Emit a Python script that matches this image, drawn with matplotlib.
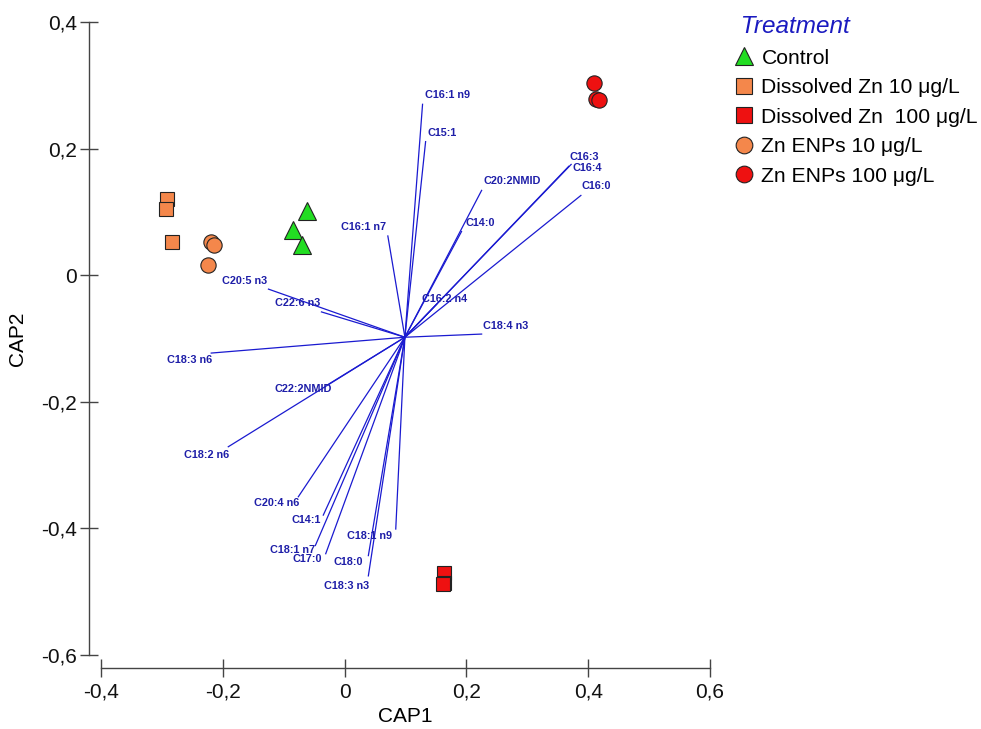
import matplotlib.pyplot as plt
from matplotlib.lines import Line2D

plt.rcParams['font.family'] = ['Liberation Sans', 'DejaVu Sans']

# Sample scores (CAP1, CAP2)
control_x = [-0.062, -0.084, -0.070]
control_y = [0.101, 0.071, 0.047]
dzn10_x = [-0.291, -0.293, -0.283]
dzn10_y = [0.121, 0.104, 0.052]
dzn100_x = [0.163, 0.163, 0.161]
dzn100_y = [-0.470, -0.487, -0.488]
enp10_x = [-0.219, -0.215, -0.225]
enp10_y = [0.052, 0.048, 0.016]
enp100_x = [0.410, 0.413, 0.418]
enp100_y = [0.304, 0.278, 0.277]

# Fatty acid vectors (common origin, end points)
origin = (0.099, -0.098)
fa_names = ["C16:1 n9", "C15:1", "C20:2NMID", "C14:0", "C16:3", "C16:4", "C16:0",
            "C16:2 n4", "C18:4 n3", "C16:1 n7", "C20:5 n3", "C22:6 n3", "C18:3 n6",
            "C22:2NMID", "C18:2 n6", "C20:4 n6", "C14:1", "C18:1 n7", "C17:0",
            "C18:1 n9", "C18:0", "C18:3 n3"]
fa_x = [0.128, 0.133, 0.225, 0.192, 0.372, 0.368, 0.388,
        0.151, 0.225, 0.071, -0.125, -0.038, -0.219,
        -0.026, -0.191, -0.076, -0.035, -0.048, -0.031,
        0.084, 0.039, 0.039]
fa_y = [0.270, 0.211, 0.134, 0.069, 0.175, 0.172, 0.126,
        -0.046, -0.093, 0.062, -0.022, -0.058, -0.123,
        -0.172, -0.271, -0.350, -0.379, -0.427, -0.440,
        -0.401, -0.443, -0.475]

# label placement: (ha, dx px, dy px)
fa_label_style = [("left", 2, 9), ("left", 2, 9), ("left", 2, 9), ("left", 4, 9),
                  ("left", -2, 7), ("left", 4, -2), ("left", 1, 9),
                  ("left", -15, 5), ("left", 1, 8), ("right", -2, 9),
                  ("right", -1, 8), ("right", -1, 9), ("right", 1, -7),
                  ("right", 3, -5), ("right", 1, -8), ("right", 1, -6),
                  ("right", -2, -5), ("right", 0, -5), ("right", -4, -5),
                  ("right", -4, -7), ("right", -5, -6), ("right", 1, -10)]

ticks = [-0.4, -0.2, 0, 0.2, 0.4, 0.6]
xtick_labels = ["-0,4", "-0,2", "0", "0,2", "0,4", "0,6"]
yticks = [-0.6, -0.4, -0.2, 0, 0.2, 0.4]
ytick_labels = ["-0,6", "-0,4", "-0,2", "0", "0,2", "0,4"]

legend_labels = ["Control", "Dissolved Zn 10 \u03bcg/L", "Dissolved Zn  100 \u03bcg/L",
                 "Zn ENPs 10 \u03bcg/L", "Zn ENPs 100 \u03bcg/L"]

green = "#22dd22"
orange = "#f4874b"
red = "#ee1111"
edge = "#222222"
line_blue = "#1a1ad0"
text_blue = "#1e1ea8"
px = 0.72  # points per pixel at dpi 100

fig = plt.figure(figsize=(9.81, 7.29), dpi=100)
ax = fig.add_axes([101 / 981, (729 - 655) / 729, 609 / 981, 633 / 729])
ax.set_xlim(-0.4, 0.6)
ax.set_ylim(-0.6, 0.4)

# vectors
for name, x, y, (ha, dx, dy) in zip(fa_names, fa_x, fa_y, fa_label_style):
    ax.plot([origin[0], x], [origin[1], y], color=line_blue, lw=0.9, zorder=2)
    ax.annotate(name, (x, y), xytext=(dx * px, dy * px), textcoords="offset points",
                ha=ha, va="center", fontsize=7.8, fontweight="bold", color=text_blue,
                zorder=3)

# samples
ax.plot(control_x, control_y, "^", ms=13.5, mfc=green, mec=edge, mew=0.8, ls="none", zorder=4)
ax.plot(dzn10_x, dzn10_y, "s", ms=10.5, mfc=orange, mec=edge, mew=0.8, ls="none", zorder=4)
ax.plot(dzn100_x, dzn100_y, "s", ms=10.5, mfc=red, mec=edge, mew=0.8, ls="none", zorder=4)
ax.plot(enp10_x, enp10_y, "o", ms=11, mfc=orange, mec=edge, mew=0.8, ls="none", zorder=4)
ax.plot(enp100_x, enp100_y, "o", ms=11, mfc=red, mec=edge, mew=0.8, ls="none", zorder=4)

# axes look
for s in ["top", "right"]:
    ax.spines[s].set_visible(False)
ax.spines["left"].set_position(("outward", 12 * px))
ax.spines["bottom"].set_position(("outward", 13 * px))
for s in ["left", "bottom"]:
    ax.spines[s].set_color("#444444")
    ax.spines[s].set_linewidth(1.0)
ax.set_xticks(ticks)
ax.set_xticklabels(xtick_labels)
ax.set_yticks(yticks)
ax.set_yticklabels(ytick_labels)
ax.tick_params(direction="inout", length=13, width=1, color="#444444",
               labelsize=15, pad=2, labelcolor="#111111")
ax.tick_params(axis="x", pad=4)
ax.set_xlabel("CAP1", fontsize=15, labelpad=4)
ax.set_ylabel("CAP2", fontsize=15, labelpad=10)

# legend
handles = [
    Line2D([], [], marker="^", ls="none", ms=13, mfc=green, mec=edge, mew=0.8),
    Line2D([], [], marker="s", ms=11.5, ls="none", mfc=orange, mec=edge, mew=0.8),
    Line2D([], [], marker="s", ms=11.5, ls="none", mfc=red, mec=edge, mew=0.8),
    Line2D([], [], marker="o", ms=12, ls="none", mfc=orange, mec=edge, mew=0.8),
    Line2D([], [], marker="o", ms=12, ls="none", mfc=red, mec=edge, mew=0.8),
]
leg = fig.legend(handles, legend_labels, title=" Treatment", loc="upper left",
                 bbox_to_anchor=(734 / 981, 1 - 15 / 729), frameon=False,
                 fontsize=15.2, title_fontproperties={"style": "italic", "size": 17.5},
                 alignment="left", handlelength=0.9, handletextpad=0.4,
                 labelspacing=0.5, borderpad=0, borderaxespad=0)
leg.get_title().set_color("#1a1ac0")

fig.savefig("out.png", dpi=100)
